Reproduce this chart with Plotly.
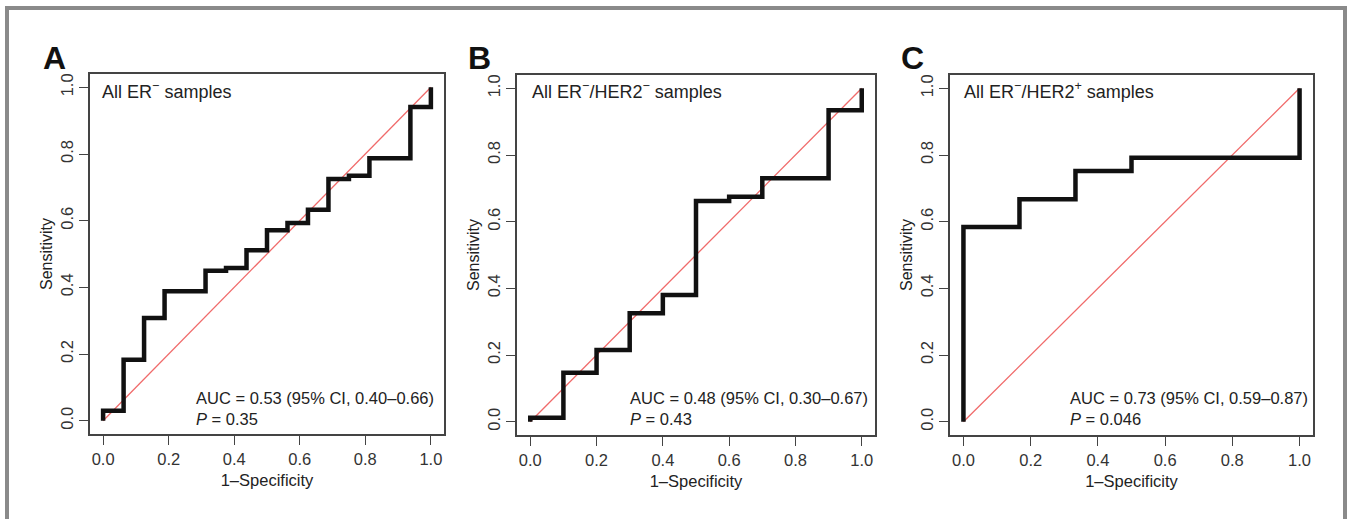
import plotly.graph_objects as go

W, H = 1355, 519

# ---- data ----
panel_letters = ["A", "B", "C"]
panel_titles = ["All ER<sup>−</sup> samples",
                "All ER<sup>−</sup>/HER2<sup>−</sup> samples",
                "All ER<sup>−</sup>/HER2<sup>+</sup> samples"]
auc_texts = ["AUC = 0.53 (95% CI, 0.40–0.66)<br><i>P</i> = 0.35",
             "AUC = 0.48 (95% CI, 0.30–0.67)<br><i>P</i> = 0.43",
             "AUC = 0.73 (95% CI, 0.59–0.87)<br><i>P</i> = 0.046"]

fpr_A = [0, 0, 0.0625, 0.125, 0.1875, 0.3125, 0.375, 0.4375, 0.5, 0.5625, 0.625, 0.6875, 0.75, 0.8125, 0.9375, 1.0]
tpr_A = [0, 0.03, 0.183, 0.308, 0.388, 0.45, 0.458, 0.511, 0.571, 0.593, 0.633, 0.725, 0.735, 0.787, 0.941, 1.0]

fpr_B = [0, 0, 0.1, 0.2, 0.3, 0.4, 0.5, 0.6, 0.7, 0.9, 1.0]
tpr_B = [0, 0.012, 0.147, 0.215, 0.325, 0.38, 0.662, 0.675, 0.73, 0.934, 1.0]

fpr_C = [0, 0, 0.1667, 0.3333, 0.5, 1.0]
tpr_C = [0, 0.584, 0.667, 0.752, 0.792, 1.0]

tick_vals = [0, 0.2, 0.4, 0.6, 0.8, 1.0]
tick_text = ["0.0", "0.2", "0.4", "0.6", "0.8", "1.0"]
diag = [0, 1]

curves = [(fpr_A, tpr_A), (fpr_B, tpr_B), (fpr_C, tpr_C)]

# ---- layout geometry (pixels) ----
boxes = [(90, 444, 74, 434), (517, 875, 75, 435), (950, 1313, 75, 435)]
letter_pos = [(54, 58), (479, 58), (912, 58)]
title_x = [100, 530, 962]
auc_x = [194, 628, 1068]

FONT = "Liberation Sans, Arial, Helvetica, sans-serif"

fig = go.Figure()
for i, ((fx, ty), (x0, x1, y0, y1)) in enumerate(zip(curves, boxes)):
    xa = "x" if i == 0 else f"x{i+1}"
    ya = "y" if i == 0 else f"y{i+1}"
    fig.add_trace(go.Scatter(x=diag, y=diag, mode="lines", xaxis=xa, yaxis=ya,
                             line=dict(color="#F06A6A", width=1.3), showlegend=False,
                             hoverinfo="skip"))
    fig.add_trace(go.Scatter(x=fx, y=ty, mode="lines", xaxis=xa, yaxis=ya,
                             line=dict(color="#111111", width=4.5, shape="hv"),
                             showlegend=False))
    axis_common = dict(range=[-0.04, 1.04], tickvals=tick_vals, ticktext=tick_text,
                       ticks="outside", ticklen=9, tickwidth=1.3, tickcolor="#444",
                       showline=True, mirror=True, linecolor="#444", linewidth=1.5,
                       showgrid=False, zeroline=False,
                       tickfont=dict(family=FONT, size=16.5, color="#333"),
                       fixedrange=True)
    xk = "xaxis" if i == 0 else f"xaxis{i+1}"
    yk = "yaxis" if i == 0 else f"yaxis{i+1}"
    fig.update_layout(**{
        xk: dict(axis_common, domain=[x0 / W, x1 / W], anchor=ya,
                 title=dict(text="1–Specificity", standoff=8,
                            font=dict(family=FONT, size=16.5, color="#222"))),
        yk: dict(axis_common, domain=[1 - y1 / H, 1 - y0 / H], anchor=xa,
                 tickangle=-90,
                 title=dict(text="Sensitivity", standoff=1,
                            font=dict(family=FONT, size=16, color="#222"))),
    })
    lx, ly = letter_pos[i]
    fig.add_annotation(x=lx / W, y=1 - ly / H, xref="paper", yref="paper",
                       text=f"<b>{panel_letters[i]}</b>", showarrow=False,
                       font=dict(family=FONT, size=32, color="#111"),
                       xanchor="center", yanchor="middle")
    fig.add_annotation(x=title_x[i] / W, y=1 - 90 / H, xref="paper", yref="paper",
                       text=panel_titles[i], showarrow=False,
                       font=dict(family=FONT, size=18, color="#222"),
                       xanchor="left", yanchor="middle")
    fig.add_annotation(x=auc_x[i] / W, y=1 - 408 / H, xref="paper", yref="paper",
                       text=auc_texts[i], showarrow=False, align="left",
                       font=dict(family=FONT, size=16.5, color="#222"),
                       xanchor="left", yanchor="middle")

# outer gray frame
fig.add_shape(type="rect", xref="paper", yref="paper",
              x0=7 / W, x1=1345 / W, y0=-0.05, y1=1 - 8 / H,
              line=dict(color="#8a8a8a", width=4), fillcolor="rgba(0,0,0,0)")

fig.update_layout(width=W, height=H, autosize=False,
                  margin=dict(l=0, r=0, t=0, b=0),
                  paper_bgcolor="white", plot_bgcolor="white",
                  font=dict(family=FONT))

fig.write_html("out.html", config={"displayModeBar": False},
               post_script="document.body.style.margin='0';document.body.style.overflow='hidden';")
